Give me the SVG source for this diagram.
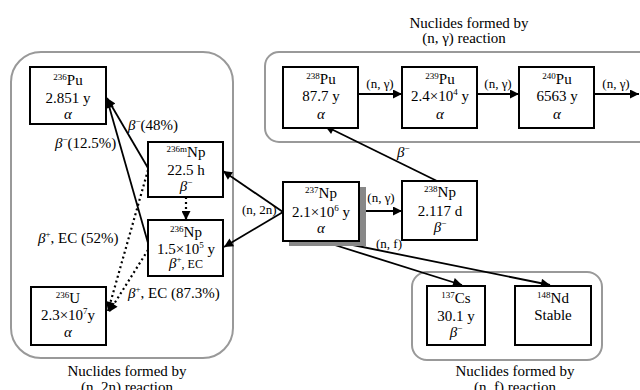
<svg xmlns="http://www.w3.org/2000/svg" width="640" height="390" viewBox="0 0 640 390">
<style>
text{font-family:"Liberation Serif","Times New Roman",serif;font-size:15px;fill:#000}
.c{text-anchor:middle}
.s{font-size:9px}
.i{font-style:italic}
.l{font-size:13px}
.box{fill:#fff;stroke:#000;stroke-width:2}
.grp{fill:none;stroke:#999;stroke-width:2}
.ln{fill:none;stroke:#000;stroke-width:1.8}
.dot{fill:none;stroke:#000;stroke-width:2.2;stroke-dasharray:2 3}
</style>
<defs>
<marker id="ah" viewBox="0 0 10 10" refX="10" refY="5" markerWidth="11" markerHeight="9" markerUnits="userSpaceOnUse" orient="auto">
<path d="M0,0 L10,5 L0,10 z" fill="#000"/>
</marker>
</defs>

<g id="groups">
<rect class="grp" x="11" y="52" width="222" height="306" rx="30"/>
<rect class="grp" x="265" y="52" width="400" height="90" rx="14"/>
<rect class="grp" x="412" y="272" width="190" height="88" rx="15"/>
<text class="c" x="127" y="376">Nuclides formed by</text>
<text class="c" x="127" y="392">(n, 2n) reaction</text>
<text class="c" x="469" y="28">Nuclides formed by</text>
<text class="c" x="464" y="43">(n, γ) reaction</text>
<text class="c" x="515" y="376">Nuclides formed by</text>
<text class="c" x="515" y="392">(n, f) reaction</text>
</g>

<g id="connectors">
<line class="ln" x1="359" y1="211" x2="402" y2="211" marker-end="url(#ah)"/>
<line class="ln" x1="283" y1="212" x2="223" y2="171" marker-end="url(#ah)"/>
<line class="ln" x1="283" y1="212" x2="224" y2="247" marker-end="url(#ah)"/>
<line class="ln" x1="322" y1="241" x2="462" y2="285" marker-end="url(#ah)"/>
<line class="ln" x1="333" y1="241" x2="550" y2="285" marker-end="url(#ah)"/>
<line class="ln" x1="437" y1="181" x2="325" y2="126" marker-end="url(#ah)"/>
<line class="ln" x1="358" y1="94" x2="402" y2="94" marker-end="url(#ah)"/>
<line class="ln" x1="477" y1="94" x2="519" y2="94" marker-end="url(#ah)"/>
<line class="ln" x1="594" y1="94" x2="639" y2="94" marker-end="url(#ah)"/>
<line class="ln" x1="148" y1="168" x2="107" y2="98" marker-end="url(#ah)"/>
<line class="ln" x1="148" y1="243" x2="107" y2="99" marker-end="url(#ah)"/>
<line class="dot" x1="148" y1="170" x2="108" y2="311" marker-end="url(#ah)"/>
<line class="dot" x1="148" y1="250" x2="109" y2="312" marker-end="url(#ah)"/>
<line class="dot" x1="186" y1="197" x2="186" y2="220" marker-end="url(#ah)"/>
<text class="l c" x="381" y="202">(n, γ)</text>
<text class="l" x="242" y="214">(n, 2n)</text>
<text class="l" x="376" y="248">(n, f)</text>
<text class="l c" x="380" y="88">(n, γ)</text>
<text class="l c" x="498" y="88">(n, γ)</text>
<text class="l c" x="616" y="88">(n, γ)</text>
<text x="397" y="157"><tspan class="i">β</tspan><tspan class="s" dy="-6">−</tspan></text>
<text x="128" y="130"><tspan class="i">β</tspan><tspan class="s" dy="-6">−</tspan><tspan dy="6">(48%)</tspan></text>
<text x="55" y="148"><tspan class="i">β</tspan><tspan class="s" dy="-6">−</tspan><tspan dy="6">(12.5%)</tspan></text>
<text x="38" y="243"><tspan class="i">β</tspan><tspan class="s" dy="-6">+</tspan><tspan dy="6">, EC (52%)</tspan></text>
<text x="128" y="298"><tspan class="i">β</tspan><tspan class="s" dy="-6">+</tspan><tspan dy="6">, EC (87.3%)</tspan></text>
</g>

<g id="n236Pu">
<rect class="box" x="30" y="67" width="76" height="57"/>
<text class="c" x="68" y="85"><tspan class="s" dy="-5">236</tspan><tspan dy="5">Pu</tspan></text>
<text class="c" x="68" y="103">2.851 y</text>
<text class="c i" x="68" y="119">α</text>
</g>

<g id="n236mNp">
<rect class="box" x="148" y="142" width="75" height="55"/>
<text class="c" x="186" y="157"><tspan class="s" dy="-5">236m</tspan><tspan dy="5">Np</tspan></text>
<text class="c" x="186" y="175">22.5 h</text>
<text class="c" x="186" y="191"><tspan class="i">β</tspan><tspan class="s" dy="-6">−</tspan></text>
</g>

<g id="n236Np">
<rect class="box" x="148" y="220" width="75" height="56"/>
<text class="c" x="186" y="237"><tspan class="s" dy="-5">236</tspan><tspan dy="5">Np</tspan></text>
<text class="c" x="186" y="254">1.5×10<tspan class="s" dy="-6">5</tspan><tspan dy="6"> y</tspan></text>
<text class="c" x="186" y="268"><tspan class="i">β</tspan><tspan class="s" dy="-6">+</tspan><tspan dy="6" font-size="12">, EC</tspan></text>
</g>

<g id="n236U">
<rect class="box" x="31" y="287" width="75" height="58"/>
<text class="c" x="68" y="303"><tspan class="s" dy="-5">236</tspan><tspan dy="5">U</tspan></text>
<text class="c" x="68" y="320">2.3×10<tspan class="s" dy="-6">7</tspan><tspan dy="6">y</tspan></text>
<text class="c i" x="68" y="337">α</text>
</g>

<g id="n237Np">
<rect x="289" y="187" width="77" height="59" fill="#888"/>
<rect class="box" x="283" y="182" width="76" height="59"/>
<text class="c" x="321" y="198"><tspan class="s" dy="-5">237</tspan><tspan dy="5">Np</tspan></text>
<text class="c" x="321" y="217">2.1×10<tspan class="s" dy="-6">6</tspan><tspan dy="6"> y</tspan></text>
<text class="c i" x="321" y="233">α</text>
</g>

<g id="n238Np">
<rect class="box" x="402" y="181" width="75" height="59"/>
<text class="c" x="440" y="197"><tspan class="s" dy="-5">238</tspan><tspan dy="5">Np</tspan></text>
<text class="c" x="440" y="216">2.117 d</text>
<text class="c" x="440" y="232"><tspan class="i">β</tspan><tspan class="s" dy="-6">−</tspan></text>
</g>

<g id="n238Pu">
<rect class="box" x="283" y="67" width="75" height="61"/>
<text class="c" x="321" y="84"><tspan class="s" dy="-5">238</tspan><tspan dy="5">Pu</tspan></text>
<text class="c" x="321" y="101">87.7 y</text>
<text class="c i" x="321" y="119">α</text>
</g>

<g id="n239Pu">
<rect class="box" x="402" y="67" width="75" height="61"/>
<text class="c" x="440" y="84"><tspan class="s" dy="-5">239</tspan><tspan dy="5">Pu</tspan></text>
<text class="c" x="440" y="101">2.4×10<tspan class="s" dy="-6">4</tspan><tspan dy="6"> y</tspan></text>
<text class="c i" x="440" y="119">α</text>
</g>

<g id="n240Pu">
<rect class="box" x="519" y="67" width="75" height="61"/>
<text class="c" x="557" y="84"><tspan class="s" dy="-5">240</tspan><tspan dy="5">Pu</tspan></text>
<text class="c" x="557" y="101">6563 y</text>
<text class="c i" x="557" y="119">α</text>
</g>

<g id="n137Cs">
<rect class="box" x="427" y="286" width="58" height="59"/>
<text class="c" x="456" y="303"><tspan class="s" dy="-5">137</tspan><tspan dy="5">Cs</tspan></text>
<text class="c" x="456" y="321">30.1 y</text>
<text class="c" x="456" y="337"><tspan class="i">β</tspan><tspan class="s" dy="-6">−</tspan></text>
</g>

<g id="n148Nd">
<rect class="box" x="515" y="286" width="76" height="59"/>
<text class="c" x="553" y="303"><tspan class="s" dy="-5">148</tspan><tspan dy="5">Nd</tspan></text>
<text class="c" x="553" y="320">Stable</text>
</g>
</svg>
